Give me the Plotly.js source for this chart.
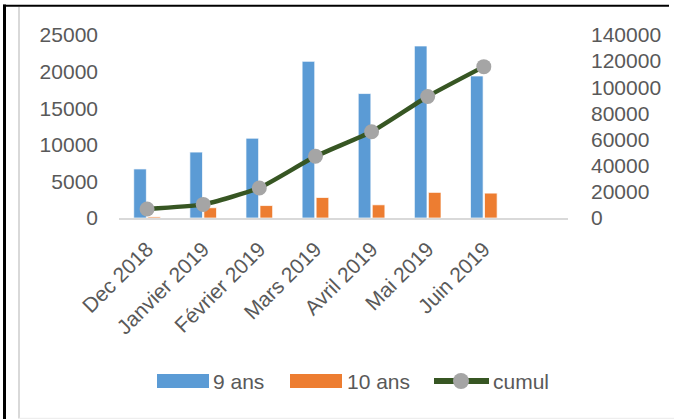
<!DOCTYPE html>
<html>
<head>
<meta charset="utf-8">
<script src="https://cdn.plot.ly/plotly-3.0.1.min.js"></script>
<style>
  html, body { margin: 0; padding: 0; background: #ffffff; }
  #chart { width: 674px; height: 419px; }
</style>
</head>
<body>
<div id="chart"></div>
<script>
// Monthly counts by age group, with the running total on the right axis
const months = ['Dec 2018', 'Janvier 2019', 'Février 2019', 'Mars 2019', 'Avril 2019', 'Mai 2019', 'Juin 2019'];
const ans9 = [6700, 9000, 10900, 21400, 17000, 23500, 19400];
const ans10 = [150, 1400, 1700, 2800, 1800, 3500, 3400];
const cumul = [6900, 10400, 23000, 47200, 66000, 93000, 115800];

const leftTicks = [0, 5000, 10000, 15000, 20000, 25000];
const rightTicks = [0, 20000, 40000, 60000, 80000, 100000, 120000, 140000];

const seriesNames = ['9 ans', '10 ans', 'cumul'];
const BLUE = '#5b9bd5', ORANGE = '#ed7d31', GREEN = '#375623', GREY = '#a5a5a5';

const FONT = 'Liberation Sans, Arial, sans-serif';
const TEXT = '#595959';
const FS = 21;

// plot-area geometry in pixels, used to place frame and legend in paper units
const W = 674, H = 419;
const M = { l: 119, r: 106, t: 35, b: 201 };
const pw = W - M.l - M.r, ph = H - M.t - M.b;
const px = x => (x - M.l) / pw;
const py = y => (H - M.b - y) / ph;

const traces = [
  {
    type: 'bar', name: seriesNames[0], x: months, y: ans9,
    marker: { color: BLUE, line: { color: 'rgba(255,255,255,0.7)', width: 1 } },
    yaxis: 'y', showlegend: false
  },
  {
    type: 'bar', name: seriesNames[1], x: months, y: ans10,
    marker: { color: ORANGE, line: { color: 'rgba(255,255,255,0.7)', width: 1 } },
    yaxis: 'y', showlegend: false
  },
  {
    type: 'scatter', mode: 'lines+markers', name: seriesNames[2], x: months, y: cumul,
    yaxis: 'y2', cliponaxis: false, showlegend: false,
    line: { color: GREEN, width: 4.5, shape: 'spline', smoothing: 0.5 },
    marker: { color: GREY, size: 15, line: { width: 0 } }
  }
];

// legend row: wide colour keys followed by their labels
const legY = 381;
const legendShapes = [
  { type: 'rect', xref: 'paper', yref: 'paper', x0: px(157), x1: px(209), y0: py(374), y1: py(388), fillcolor: BLUE, line: { width: 0 } },
  { type: 'rect', xref: 'paper', yref: 'paper', x0: px(290), x1: px(342), y0: py(374), y1: py(388), fillcolor: ORANGE, line: { width: 0 } },
  { type: 'line', xref: 'paper', yref: 'paper', x0: px(434), x1: px(489), y0: py(legY), y1: py(legY), line: { color: GREEN, width: 6 } },
  { type: 'circle', xref: 'paper', yref: 'paper', x0: px(453), x1: px(469), y0: py(legY - 8), y1: py(legY + 8), fillcolor: GREY, line: { width: 0 } }
];
const legendLabels = [
  { text: seriesNames[0], x: px(211) },
  { text: seriesNames[1], x: px(345) },
  { text: seriesNames[2], x: px(491) }
].map(a => ({
  text: a.text, x: a.x, y: py(legY), xref: 'paper', yref: 'paper',
  xanchor: 'left', yanchor: 'middle', showarrow: false,
  font: { family: FONT, size: FS, color: TEXT }
}));

const layout = {
  width: W, height: H,
  margin: M,
  paper_bgcolor: '#ffffff', plot_bgcolor: '#ffffff',
  font: { family: FONT, size: FS, color: TEXT },
  showlegend: false,
  barmode: 'group', bargap: 0.5, bargroupgap: 0.1,
  xaxis: {
    type: 'category', categoryorder: 'array', categoryarray: months,
    range: [-0.5, 7.5], fixedrange: true,
    showgrid: false, zeroline: false,
    showline: true, linecolor: '#d9d9d9', linewidth: 1.5,
    ticks: '', tickangle: -45, ticklabelstandoff: 9,
    tickfont: { family: FONT, size: FS, color: TEXT }
  },
  yaxis: {
    range: [0, 25000], tickvals: leftTicks, ticktext: leftTicks.map(String),
    showgrid: false, zeroline: false, showline: false, ticks: '',
    ticklabelstandoff: 20,
    tickfont: { family: FONT, size: FS, color: TEXT }
  },
  yaxis2: {
    overlaying: 'y', side: 'right',
    range: [0, 140000], tickvals: rightTicks, ticktext: rightTicks.map(String),
    showgrid: false, zeroline: false, showline: false, ticks: '',
    ticklabelstandoff: 22,
    tickfont: { family: FONT, size: FS, color: TEXT }
  },
  annotations: legendLabels,
  shapes: [
    // outer black rules (left and top)
    { type: 'line', xref: 'paper', yref: 'paper', x0: px(4.5), x1: px(4.5), y0: py(4.5), y1: py(420), line: { color: '#000000', width: 3 } },
    { type: 'line', xref: 'paper', yref: 'paper', x0: px(3), x1: px(669), y0: py(5.7), y1: py(5.7), line: { color: '#000000', width: 2 } },
    // light chart frame (left and bottom)
    { type: 'line', xref: 'paper', yref: 'paper', x0: px(19), x1: px(19), y0: py(7), y1: py(418.5), line: { color: '#d9d9d9', width: 2 } },
    { type: 'line', xref: 'paper', yref: 'paper', x0: px(19), x1: px(674), y0: py(418.5), y1: py(418.5), line: { color: '#eeeeee', width: 1.5 } }
  ].concat(legendShapes)
};

Plotly.newPlot('chart', traces, layout, { staticPlot: true, displayModeBar: false });
</script>
</body>
</html>
